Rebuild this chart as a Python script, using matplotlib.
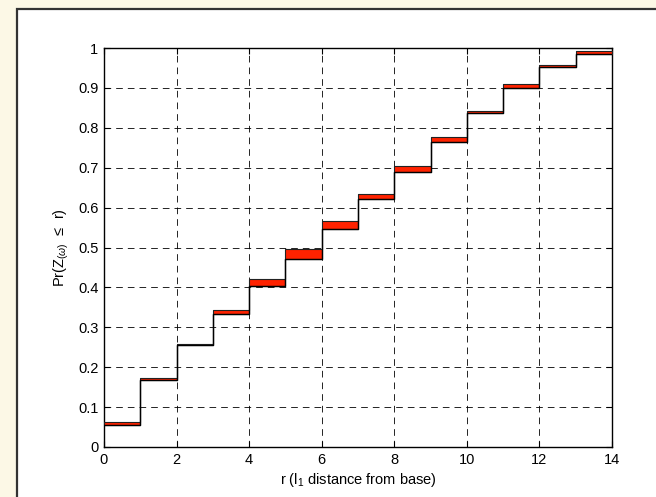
import numpy as np
import matplotlib
matplotlib.use("Agg")
import matplotlib.pyplot as plt
from matplotlib.patches import Rectangle

plt.rcParams['font.family'] = ['Liberation Sans', 'DejaVu Sans']
plt.rcParams['mathtext.fontset'] = 'custom'
plt.rcParams['mathtext.rm'] = 'Liberation Sans'
plt.rcParams['mathtext.it'] = 'Liberation Sans:italic'

# step edges r = 0..14, one bin per unit distance
r_edges = list(range(15))
# lower / upper bound of Pr(Z <= r) for each bin [r, r+1)
lower = [0.054, 0.169, 0.256, 0.333, 0.404, 0.472, 0.546, 0.622, 0.690,
         0.764, 0.836, 0.899, 0.953, 0.986]
upper = [0.063, 0.173, 0.259, 0.344, 0.421, 0.495, 0.567, 0.634, 0.705,
         0.776, 0.842, 0.909, 0.957, 0.992]
x_ticks = [0, 2, 4, 6, 8, 10, 12, 14]
y_ticks = [0, 0.1, 0.2, 0.3, 0.4, 0.5, 0.6, 0.7, 0.8, 0.9, 1]
y_tick_labels = ['0', '0.1', '0.2', '0.3', '0.4', '0.5', '0.6', '0.7', '0.8', '0.9', '1']

fig = plt.figure(figsize=(6.56, 4.97), dpi=100)
fig.patch.set_facecolor('#fcf8e6')

# white panel with dark border on left/top
W, H = 656, 497
panel = Rectangle((17 / W, -0.05), 1.2, (H - 9) / H + 0.05, transform=fig.transFigure,
                  facecolor='white', edgecolor='#333333', linewidth=1.6, zorder=-5)
fig.add_artist(panel)

ax = fig.add_axes([104 / W, (H - 447) / H, (612 - 104) / W, (447 - 48) / H])
ax.set_zorder(1)

lo = lower + [lower[-1]]
hi = upper + [upper[-1]]
ax.fill_between(r_edges, lo, hi, step='post', facecolor='#ff2200',
                edgecolor='#222222', linewidth=0.8, zorder=3)
ax.step(r_edges, lo, where='post', color='black', linewidth=1.0, zorder=4)

ax.set_xlim(0, 14)
ax.set_ylim(0, 1)
ax.set_xticks(x_ticks)
ax.set_yticks(y_ticks)
ax.set_yticklabels(y_tick_labels)
ax.tick_params(direction='in', length=4, labelsize=10.5, width=0.8, top=True, right=True, pad=4)
ax.grid(True, color='black', linestyle=(0, (8, 6)), linewidth=0.6)
for s in ax.spines.values():
    s.set_linewidth(1.0)

ax.set_xlabel(r'r (l$_1$ distance from base)', fontsize=10.5, labelpad=3)
ax.set_ylabel('Pr(Z$_{(\\omega)}$  \u2264  r)', fontsize=10.5, labelpad=5)

fig.savefig('out.png', dpi=100, facecolor=fig.get_facecolor())
